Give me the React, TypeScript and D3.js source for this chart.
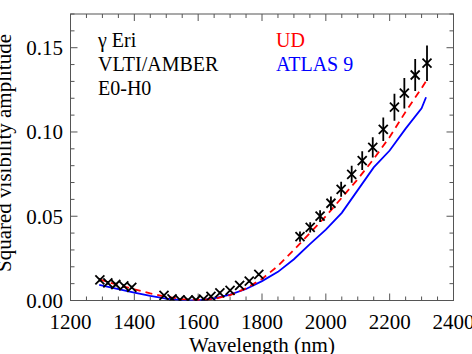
import React, { useRef, useEffect } from "react";
import * as d3 from "d3";

// measured squared visibilities (AMBER, E0-H0)
const wavelength = [
  1292, 1317, 1342, 1367, 1392,
  1493, 1518, 1543, 1568, 1593, 1617, 1640, 1668, 1700, 1730, 1760, 1790,
  1919, 1951, 1982, 2016, 2048, 2081, 2114, 2147, 2180, 2215, 2246, 2280, 2317,
];
const v2 = [
  0.0122, 0.0105, 0.0095, 0.0087, 0.0078,
  0.003, 0.001, 0.0004, 0.0002, 0.0003, 0.0008, 0.0025, 0.0045, 0.006, 0.009, 0.0115, 0.0155,
  0.0379, 0.0434, 0.0501, 0.0577, 0.066, 0.0749, 0.083, 0.0909, 0.1016, 0.1147, 0.123, 0.1338, 0.1408,
];
const v2Err = [
  0.001, 0.001, 0.001, 0.001, 0.001,
  0.0008, 0.0008, 0.0008, 0.0008, 0.0008, 0.0008, 0.0008, 0.0008, 0.0008, 0.0008, 0.0008, 0.0008,
  0.003, 0.003, 0.0035, 0.004, 0.0045, 0.005, 0.0055, 0.006, 0.007, 0.008, 0.009, 0.0095, 0.0105,
];

// uniform disk model
const udWave = [1290, 1350, 1400, 1450, 1500, 1550, 1600, 1650, 1700, 1750, 1800, 1850, 1900, 1950, 2000, 2050, 2100, 2150, 2200, 2250, 2300, 2317];
const udV2 = [0.0125, 0.0092, 0.0066, 0.0042, 0.0022, 0.0008, 0.0003, 0.0009, 0.0032, 0.0072, 0.0128, 0.0205, 0.03, 0.04, 0.05, 0.061, 0.072, 0.084, 0.097, 0.112, 0.126, 0.131];

// ATLAS 9 model
const atlasWave = [1290, 1350, 1400, 1450, 1500, 1550, 1600, 1650, 1700, 1750, 1800, 1850, 1900, 1950, 2000, 2050, 2100, 2150, 2200, 2250, 2300, 2314];
const atlasV2 = [0.0093, 0.0068, 0.0047, 0.0027, 0.0011, 0.0002, 0.0, 0.0012, 0.0035, 0.0068, 0.0115, 0.017, 0.0245, 0.0335, 0.042, 0.052, 0.0655, 0.079, 0.089, 0.102, 0.114, 0.1206];

const xTicks = [1200, 1400, 1600, 1800, 2000, 2200, 2400];
const yTicks = [0, 0.05, 0.1, 0.15];
const infoLabels = ["\u03b3 Eri", "VLTI/AMBER", "E0-H0"];
const legendLabels = ["UD", "ATLAS 9"];
const legendColors = ["#ff0000", "#0000ff"];

const App = () => {
  const svgRef = useRef<SVGSVGElement>(null);

  useEffect(() => {
    if (!svgRef.current) return;
    const width = 472;
    const height = 354;
    const left = 70.5;
    const right = 453.5;
    const top = 14;
    const bottom = 300.5;
    const font = "'Liberation Serif', 'Times New Roman', serif";
    const axisColor = "#555";

    const svg = d3.select(svgRef.current).attr("width", width).attr("height", height);
    svg.selectAll("*").remove();

    const x = d3.scaleLinear().domain([1200, 2400]).range([left, right]);
    const y = d3.scaleLinear().domain([0, 0.17]).range([bottom, top]);

    svg.append("defs").append("clipPath").attr("id", "plot-clip")
      .append("rect").attr("x", left).attr("y", top)
      .attr("width", right - left).attr("height", bottom - top);

    // frame
    svg.append("rect")
      .attr("x", left).attr("y", top)
      .attr("width", right - left).attr("height", bottom - top)
      .attr("fill", "none").attr("stroke", axisColor).attr("stroke-width", 1);

    // ticks on all four sides
    const xMinor = d3.range(1200, 2401, 50);
    const yMinor = d3.range(0, 0.1701, 0.01);
    const ticks = svg.append("g").attr("stroke", axisColor).attr("stroke-width", 1);
    xMinor.forEach((v) => {
      const len = v % 200 === 0 ? 7 : 4;
      ticks.append("line").attr("x1", x(v)).attr("x2", x(v)).attr("y1", bottom).attr("y2", bottom - len);
      ticks.append("line").attr("x1", x(v)).attr("x2", x(v)).attr("y1", top).attr("y2", top + len);
    });
    yMinor.forEach((v, i) => {
      const len = i % 5 === 0 ? 7 : 4;
      ticks.append("line").attr("y1", y(v)).attr("y2", y(v)).attr("x1", left).attr("x2", left + len);
      ticks.append("line").attr("y1", y(v)).attr("y2", y(v)).attr("x1", right).attr("x2", right - len);
    });

    // tick labels
    svg.append("g").selectAll("text").data(xTicks).join("text")
      .attr("x", (d) => x(d)).attr("y", 329)
      .attr("text-anchor", "middle")
      .style("font-family", font).style("font-size", "21px")
      .text((d) => d);
    svg.append("g").selectAll("text").data(yTicks).join("text")
      .attr("x", 63).attr("y", (d) => y(d)).attr("dy", "0.35em")
      .attr("text-anchor", "end")
      .style("font-family", font).style("font-size", "21px")
      .text((d) => d3.format(".2f")(d));

    // axis titles
    svg.append("text")
      .attr("x", (left + right) / 2).attr("y", 352)
      .attr("text-anchor", "middle")
      .style("font-family", font).style("font-size", "21px")
      .text("Wavelength (nm)");
    svg.append("text")
      .attr("transform", "translate(11,153) rotate(-90)")
      .attr("text-anchor", "middle")
      .style("font-family", font).style("font-size", "21px")
      .text("Squared visibility amplitude");

    const plot = svg.append("g").attr("clip-path", "url(#plot-clip)");

    // model curves
    const line = d3.line<[number, number]>().x((d) => x(d[0])).y((d) => y(d[1]));
    plot.append("path")
      .datum(atlasWave.map((w, i) => [w, atlasV2[i]] as [number, number]))
      .attr("d", line).attr("fill", "none")
      .attr("stroke", "#0000ff").attr("stroke-width", 1.8);
    plot.append("path")
      .datum(udWave.map((w, i) => [w, udV2[i]] as [number, number]))
      .attr("d", line).attr("fill", "none")
      .attr("stroke", "#ff0000").attr("stroke-width", 1.8)
      .attr("stroke-dasharray", "7,5");

    // data with error bars
    const pts = wavelength.map((w, i) => ({ w, v: v2[i], e: v2Err[i] }));
    const s = 4.5;
    const g = plot.append("g").attr("stroke", "#000").attr("stroke-width", 1.8);
    pts.forEach((p) => {
      const cx = x(p.w);
      const cy = y(p.v);
      g.append("line").attr("x1", cx).attr("x2", cx).attr("y1", y(p.v - p.e)).attr("y2", y(p.v + p.e));
      g.append("line").attr("x1", cx - s).attr("x2", cx + s).attr("y1", cy - s).attr("y2", cy + s);
      g.append("line").attr("x1", cx - s).attr("x2", cx + s).attr("y1", cy + s).attr("y2", cy - s);
    });

    // annotations
    svg.append("g").selectAll("text").data(infoLabels).join("text")
      .attr("x", 98).attr("y", (d, i) => 47 + i * 23.8)
      .style("font-family", font).style("font-size", "20px")
      .text((d) => d);
    svg.append("g").selectAll("text").data(legendLabels).join("text")
      .attr("x", 276).attr("y", (d, i) => 47 + i * 23.5)
      .attr("fill", (d, i) => legendColors[i])
      .style("font-family", font).style("font-size", "20px")
      .text((d) => d);
  }, []);

  return <svg ref={svgRef} style={{ position: "absolute", left: 0, top: 0 }}></svg>;
};

export default App;
